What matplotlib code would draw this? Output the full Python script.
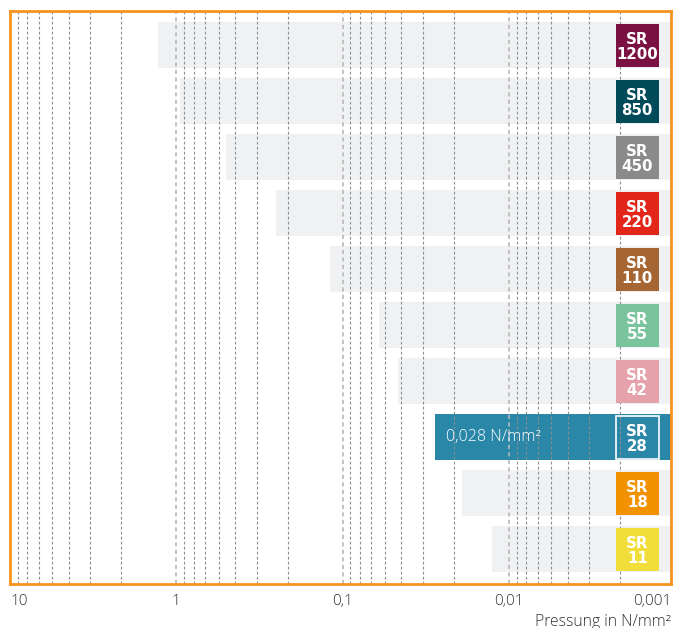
import numpy as np
import matplotlib
matplotlib.use("Agg")
import matplotlib.pyplot as plt
from matplotlib.patches import Rectangle
import matplotlib.transforms as mtransforms

plt.rcParams['font.family'] = ['Open Sans', 'DejaVu Sans']

# Sylomer Typen, von oben nach unten
types = ['1200', '850', '450', '220', '110', '55', '42', '28', '18', '11']
# linkes Ende der Balken (Pressung in N/mm²)
start_pressure = [1.29, 0.955, 0.506, 0.253, 0.119, 0.0605, 0.0465, 0.028, 0.0192, 0.0127]
type_colors = ['#7b1142', '#004a5a', '#8a8a8a', '#e2261a', '#a56633',
               '#7ac49d', '#e5a2aa', '#2a87a8', '#f39200', '#f2de3b']
highlight = '28'
highlight_text = '0,028 N/mm²'

tick_values = [10, 1, 0.1, 0.01, 0.001]
tick_labels = ['10', '1', '0,1', '0,01', '0,001']

orange = '#f7941d'
bar_gray = '#f0f1f3'
x_left, x_right = 10, 0.00106

fig = plt.figure(figsize=(6.75, 6.28), dpi=100)
ax = fig.add_axes([10 / 675, 1 - 584 / 628, 661 / 675, 573 / 628])
ax.set_xscale('log')
ax.set_xlim(x_left, x_right)
n = len(types)
ax.set_ylim(n - 1 + 0.62, -0.61)
ax.set_xticks([])
ax.set_yticks([])
ax.minorticks_off()
for s in ax.spines.values():
    s.set_color(orange)
    s.set_linewidth(2)
    s.set_zorder(10)

# Hilfslinien (gestrichelt)
for d in [0.001, 0.01, 0.1, 1]:
    for k in range(1, 8):
        ax.axvline(d * (1 + k * 8 / 7), color='#8c8c8c', lw=0.8,
                   ls=(0, (2.5, 2)), zorder=2)
    if 0.005 < d < 1.5:
        ax.axvline(d, color='#b8b8b8', lw=1.2, ls=(0, (2.5, 2)), zorder=2)

# Balken
for i, (t, v) in enumerate(zip(types, start_pressure)):
    if t == highlight:
        ax.barh(i, 0.001 - v, left=v, height=0.82, color=type_colors[i], zorder=1)
        ax.annotate(highlight_text, xy=(v, i), xytext=(8, 0), textcoords='offset points',
                    ha='left', va='center', color='white', fontsize=11.5,
                    fontweight='light', zorder=6)
    else:
        ax.barh(i, 0.001 - v, left=v, height=0.82, color=bar_gray, zorder=1)

# Typ-Kästchen rechts
trans = mtransforms.blended_transform_factory(ax.transAxes, ax.transData)
bx, bw, bh = 0.9165, 0.065, 0.768
for i, t in enumerate(types):
    if t == highlight:
        rect = Rectangle((bx, i - bh / 2), bw, bh, transform=trans,
                         facecolor='none', edgecolor='white', lw=1.2, zorder=5)
    else:
        rect = Rectangle((bx, i - bh / 2), bw, bh, transform=trans,
                         facecolor=type_colors[i], edgecolor='none', zorder=5)
    ax.add_patch(rect)
    ax.text(bx + bw / 2, i + 0.03, 'SR\n' + t, transform=trans, ha='center', va='center',
            color='white', fontsize=10.8, fontweight='bold', family='DejaVu Sans',
            linespacing=1.05, zorder=6)

# Achsenbeschriftung
for v, lab in zip(tick_values, tick_labels):
    ha = 'center'
    xv = v
    if v >= x_left:
        ha, xv = 'left', x_left
    elif v < x_right:
        ha, xv = 'right', x_right
    ax.annotate(lab, xy=(xv, 0), xycoords=('data', 'axes fraction'),
                xytext=(0, -12.5), textcoords='offset points', ha=ha, va='center',
                fontsize=11, color='#333333', fontweight='light', annotation_clip=False)

ax.annotate('Pressung in N/mm²', xy=(1, 0), xycoords='axes fraction',
            xytext=(0, -27), textcoords='offset points', ha='right', va='center',
            fontsize=11.3, color='#333333', fontweight='light', annotation_clip=False)

fig.savefig('out.png', dpi=100)
